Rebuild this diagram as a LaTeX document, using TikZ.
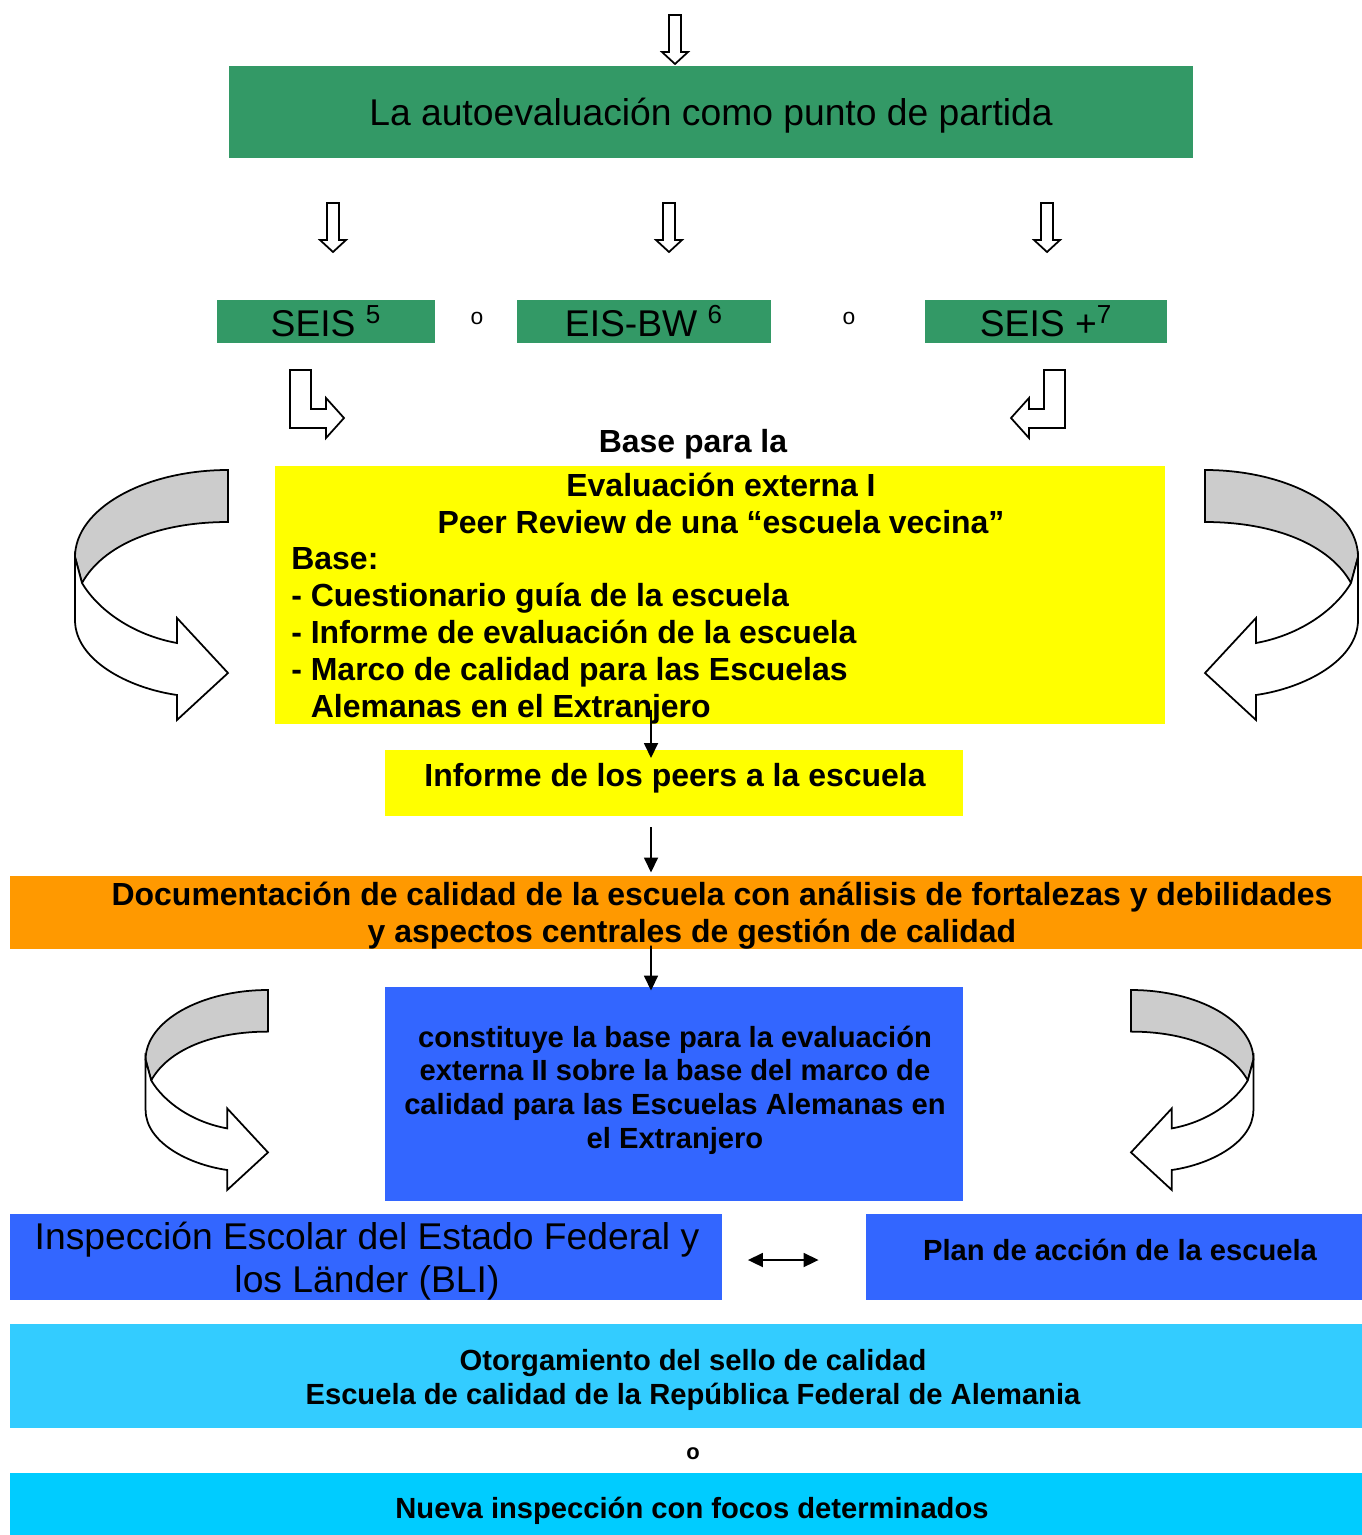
\documentclass[tikz,border=0pt]{standalone}
\usepackage{fontspec}
\setmainfont{Liberation Sans}
\usepackage{tikz}
\usetikzlibrary{arrows.meta}
\tikzset{>=latex}
\usepackage{xcolor}
\definecolor{schoolgreen}{HTML}{339966}
\definecolor{peeryellow}{HTML}{FFFF00}
\definecolor{docorange}{HTML}{FF9900}
\definecolor{bliblue}{HTML}{3366FF}
\definecolor{sealcyan}{HTML}{33CCFF}
\definecolor{newcyan}{HTML}{00CCFF}
\definecolor{backgray}{HTML}{CCCCCC}
\newcommand\titletxt{\fontsize{21.2}{24.4}\selectfont}
\newcommand\midbold{\fontsize{18.2}{21}\selectfont\bfseries}
\newcommand\smallbold{\fontsize{16.6}{19.1}\selectfont\bfseries}
\newcommand\ortxt{\fontsize{13}{15}\selectfont}
\newcommand\orbold{\fontsize{12.5}{15}\selectfont\bfseries}
\tikzstyle{panel}=[inner sep=0,outer sep=0,align=center]
\tikzstyle{flow}=[line width=1pt,-{Triangle[width=0.28cm,length=0.3cm]}]
\tikzstyle{hollow}=[line width=1pt,fill=white,line join=miter]
\tikzset{
  turnarrow/.pic={
    \filldraw[hollow,fill=backgray] (0,0) .. controls (-84,0) and (-153,39) .. (-153,87) -- (-146,113) .. controls (-125,75) and (-70,52) .. (0,52) -- cycle;
    \filldraw[hollow] (-153,87) -- (-153,150) .. controls (-153,190) and (-100,218) .. (-51,225) -- (-51,250) -- (0,203) -- (-51,148) -- (-51,173) .. controls (-95,165) and (-130,140) .. (-146,113) -- cycle;
  },
  downarrow/.pic={
    \filldraw[hollow] (-6,0) -- (6,0) -- (6,37) -- (13,37) -- (0,49) -- (-13,37) -- (-6,37) -- cycle;
  }
}

\begin{document}
\begin{tikzpicture}[x=0.02cm,y=-0.02cm]
\useasboundingbox (0,0) rectangle (1362,1535);

% start and the three tools
\node[panel,fill=schoolgreen,minimum width=19.28cm,minimum height=1.84cm] (start) at (711,112) {};
\node[font=\titletxt,inner sep=0] (starttxt) at (711,116) {La autoevaluación como punto de partida};
\node[panel,fill=schoolgreen,minimum width=4.36cm,minimum height=0.86cm,font=\titletxt] (seis) at (326,321) {SEIS \textsuperscript{5}};
\node[panel,fill=schoolgreen,minimum width=5.08cm,minimum height=0.86cm,font=\titletxt] (eisbw) at (644,321) {EIS-BW \textsuperscript{6}};
\node[panel,fill=schoolgreen,minimum width=4.84cm,minimum height=0.86cm,font=\titletxt] (seisplus) at (1046,321) {SEIS +\textsuperscript{7}};
\node[font=\ortxt] (or1) at (477,318) {o};
\node[font=\ortxt] (or2) at (849,318) {o};

\foreach \x/\y in {675/15,333/203,669/203,1047/203}
  \pic at (\x,\y) {downarrow};
\draw[hollow] (290,370) -- (311,370) -- (311,409) -- (326,409) -- (326,398) -- (344,418) -- (326,438) -- (326,428) -- (290,428) -- cycle;
\draw[hollow] (1065,370) -- (1044,370) -- (1044,409) -- (1029,409) -- (1029,398) -- (1011,418) -- (1029,438) -- (1029,428) -- (1065,428) -- cycle;

% peer review
\node[font=\midbold] (basefor) at (693,444) {Base para la};
\node[panel,fill=peeryellow,minimum width=17.8cm,minimum height=5.16cm] (peer) at (720,595) {};
\node[font=\midbold,align=center,inner sep=0] (peertitle) at (721,503) {Evaluación externa I\\Peer Review de una “escuela vecina”};
\node[font=\midbold,align=left,anchor=west,inner sep=0] (peerbase) at (291,636) {Base:\\- Cuestionario guía de la escuela\\- Informe de evaluación de la escuela\\- Marco de calidad para las Escuelas\\\phantom{-} Alemanas en el Extranjero};
\pic at (228,470) {turnarrow};
\pic[xscale=-1] at (1205,470) {turnarrow};

\node[panel,fill=peeryellow,minimum width=11.56cm,minimum height=1.32cm] (informe) at (674,783) {};
\node[font=\midbold,inner sep=0] (informetxt) at (675,778) {Informe de los peers a la escuela};

% documentation
\node[panel,fill=docorange,minimum width=27.04cm,minimum height=1.46cm] (doc) at (686,912) {};
\node[font=\midbold,align=center,inner sep=0] (doctxt) at (692,916) {\hspace*{1.2cm}Documentación de calidad de la escuela con análisis de fortalezas y debilidades\\y aspectos centrales de gestión de calidad};

\node[panel,fill=bliblue,minimum width=11.56cm,minimum height=4.3cm] (basis) at (674,1094) {};
\node[font=\smallbold,align=center,inner sep=0] (basistxt) at (675,1090) {constituye la base para la evaluación\\externa II sobre la base del marco de\\calidad para las Escuelas Alemanas en\\el Extranjero};
\pic[scale=0.8] at (268,990) {turnarrow};
\pic[xscale=-1,scale=0.8] at (1131,990) {turnarrow};

\draw[flow] ([xshift=-1.38cm,yshift=0.28cm]peer.south) -- ([xshift=-0.46cm,yshift=-0.16cm]informe.north);
\draw[flow] ([xshift=-0.46cm,yshift=-0.22cm]informe.south) -- ([xshift=-0.7cm,yshift=0.06cm]doc.north);
\draw[flow] ([xshift=-0.7cm,yshift=0.06cm]doc.south) -- ([xshift=-0.46cm,yshift=-0.08cm]basis.north);

% inspection and plan
\node[panel,fill=bliblue,minimum width=14.24cm,minimum height=1.72cm] (bli) at (366,1257) {};
\node[font=\titletxt,align=center,inner sep=0] (blitxt) at (367,1261) {Inspección Escolar del Estado Federal y\\los Länder (BLI)};
\node[panel,fill=bliblue,minimum width=9.94cm,minimum height=1.72cm] (plan) at (1114,1257) {};
\node[font=\smallbold,inner sep=0] (plantxt) at (1120,1250) {Plan de acción de la escuela};
\draw[line width=1pt,{Triangle[width=0.28cm,length=0.3cm]}-{Triangle[width=0.28cm,length=0.3cm]},shorten <=0.52cm,shorten >=0.94cm] ([yshift=-0.06cm]bli.east) -- ([yshift=-0.06cm]plan.west);

% result
\node[panel,fill=sealcyan,minimum width=27.04cm,minimum height=2.08cm] (seal) at (686,1376) {};
\node[font=\smallbold,align=center,inner sep=0] (sealtxt) at (693,1380) {Otorgamiento del sello de calidad\\Escuela de calidad de la República Federal de Alemania};
\node[font=\orbold] (or3) at (693,1454) {o};
\node[panel,fill=newcyan,minimum width=27.04cm,minimum height=1.26cm] (again) at (686,1504) {};
\node[font=\smallbold,inner sep=0] (againtxt) at (692,1511) {Nueva inspección con focos determinados};
\end{tikzpicture}
\end{document}
